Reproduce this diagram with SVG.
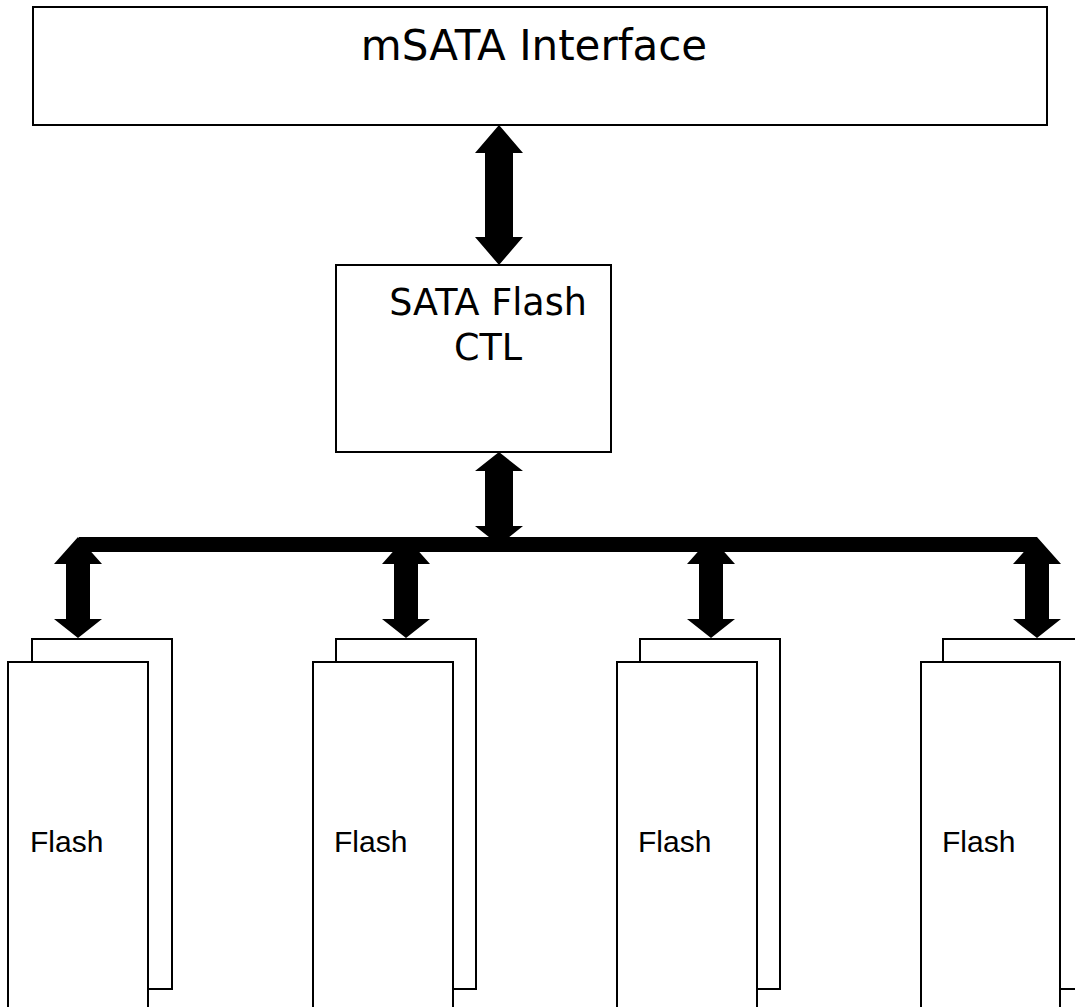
<svg xmlns="http://www.w3.org/2000/svg" width="1075" height="1007" viewBox="0 0 1075 1007">
<style>
.box{fill:#fff;stroke:#000;stroke-width:2}
.big{font-family:"DejaVu Sans",Verdana,sans-serif;fill:#000}
.fl{font-family:"Liberation Sans",Arial,sans-serif;font-size:30px;fill:#000}
.arr{fill:#000}
</style>
<rect width="1075" height="1007" fill="#fff"/>
<g id="msata">
<rect class="box" x="33" y="7" width="1014" height="118" stroke-width="2.5"/>
<text class="big" x="534" y="60" font-size="42" text-anchor="middle">mSATA Interface</text>
</g>
<g id="ctl">
<rect class="box" x="336" y="265" width="275" height="187"/>
<text class="big" x="488" y="315" font-size="36.5" text-anchor="middle">SATA Flash</text>
<text class="big" x="488" y="360" font-size="36.5" text-anchor="middle">CTL</text>
</g>
<g id="flash1">
<rect class="box" x="32" y="639" width="140" height="350"/>
<rect class="box" x="8" y="662" width="140" height="360"/>
<text class="fl" x="30" y="852">Flash</text>
</g>
<g id="flash2">
<rect class="box" x="336" y="639" width="140" height="350"/>
<rect class="box" x="313" y="662" width="140" height="360"/>
<text class="fl" x="334" y="852">Flash</text>
</g>
<g id="flash3">
<rect class="box" x="640" y="639" width="140" height="350"/>
<rect class="box" x="617" y="662" width="140" height="360"/>
<text class="fl" x="638" y="852">Flash</text>
</g>
<g id="flash4">
<rect class="box" x="943" y="639" width="140" height="350"/>
<rect class="box" x="921" y="662" width="139" height="360"/>
<text class="fl" x="942" y="852">Flash</text>
</g>
<g id="connectors">
<polygon class="arr" points="499,125 523,153 513,153 513,237 523,237 499,265 475,237 485,237 485,153 475,153"/>
<polygon class="arr" points="499,452 523,471 513,471 513,526 523,526 499,545 475,526 485,526 485,471 475,471"/>
<rect class="arr" x="79" y="537" width="958" height="15"/>
<polygon class="arr" points="78,537 102,564 90,564 90,619 102,619 78,638 54,619 66,619 66,564 54,564"/>
<polygon class="arr" points="406,537 430,564 418,564 418,619 430,619 406,638 382,619 394,619 394,564 382,564"/>
<polygon class="arr" points="711,537 735,564 723,564 723,619 735,619 711,638 687,619 699,619 699,564 687,564"/>
<polygon class="arr" points="1037,537 1061,564 1049,564 1049,619 1061,619 1037,638 1013,619 1025,619 1025,564 1013,564"/>
</g>
</svg>
